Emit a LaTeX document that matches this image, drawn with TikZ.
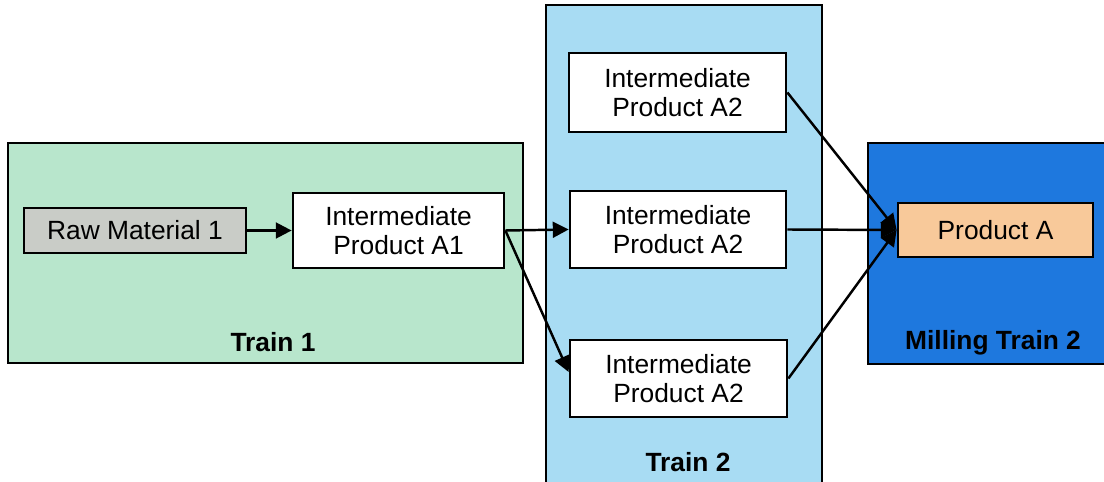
\documentclass[tikz,border=0pt]{standalone}
\usepackage{fontspec}
\setmainfont{Liberation Sans}
\usetikzlibrary{arrows.meta}
\definecolor{trainone}{HTML}{B8E6CC}
\definecolor{traintwo}{HTML}{A8DCF3}
\definecolor{milling}{HTML}{1E78DE}
\definecolor{prodfill}{HTML}{F8C99A}
\definecolor{rawfill}{HTML}{C9CCC7}
\tikzset{
  px/.style={x=0.02cm,y=-0.02cm},
  areabox/.style={draw=black,line width=1.6pt},
  procbox/.style={draw=black,line width=1.6pt,fill=white,align=center,inner sep=0pt,
    font=\fontsize{15}{16.5}\selectfont},
  arealabel/.style={font=\fontsize{15}{17}\selectfont\bfseries,inner sep=0pt},
  flow/.style={line width=1.4pt,-{Triangle[length=9pt,width=9pt]}}
}
\begin{document}
\begin{tikzpicture}[px]
\useasboundingbox (0,0) rectangle (1104,482);
\fill[white] (0,0) rectangle (1104,482);
% areas
\draw[areabox,fill=trainone] (8,143) rectangle (523,363);
\draw[areabox,fill=traintwo] (546,5) rectangle (822,490);
\draw[areabox,fill=milling] (868,143) rectangle (1110,364);
\node[arealabel] (t1) at (273,342) {Train 1};
\node[arealabel] (t2) at (688,462) {Train 2};
\node[arealabel] (mt2) at (993,343) {Milling Train 2};
% process boxes
\node[procbox,fill=rawfill,minimum width=4.44cm,minimum height=0.9cm] (raw) at (135,230.5) {Raw Material 1};
\node[procbox,minimum width=4.22cm,minimum height=1.5cm] (a1) at (398.5,230.5) {Intermediate\\Product A1};
\node[procbox,minimum width=4.34cm,minimum height=1.58cm] (top) at (677.5,92.5) {Intermediate\\Product A2};
\node[procbox,minimum width=4.32cm,minimum height=1.54cm] (mid) at (678,229.5) {Intermediate\\Product A2};
\node[procbox,minimum width=4.34cm,minimum height=1.54cm] (bot) at (678.5,378.5) {Intermediate\\Product A2};
\node[procbox,fill=prodfill,minimum width=3.9cm,minimum height=1.08cm] (prod) at (995.5,230) {Product A};
% flows
\draw[flow] (raw.east) -- (a1.west);
\draw[flow] (a1.east) -- (mid.west);
\draw[flow] (a1.east) -- ([yshift=0.13cm]bot.west);
\draw[flow] (top.east) -- (prod.west);
\draw[flow] (mid.east) -- (prod.west);
\draw[flow] (bot.east) -- (prod.west);
\end{tikzpicture}
\end{document}
